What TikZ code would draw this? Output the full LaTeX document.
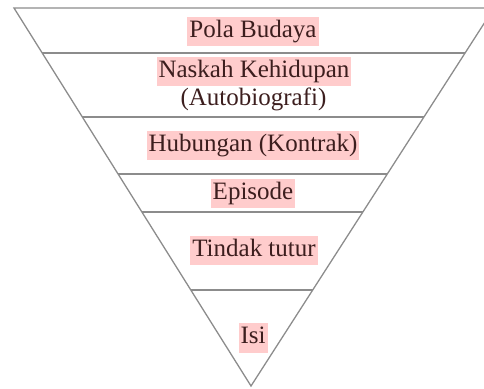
\documentclass[tikz,border=0pt]{standalone}
\usepackage{fontspec}
\setmainfont{Liberation Serif}
\usetikzlibrary{calc}
\definecolor{txt}{RGB}{60,30,30}
\definecolor{hl}{RGB}{255,204,204}
\definecolor{edge}{RGB}{140,140,140}
\tikzset{
  lbl/.style={fill=hl,text=txt,font=\fontsize{25}{28}\selectfont,inner xsep=2pt,inner ysep=3pt,text height=17.5pt,text depth=6pt},
  plain/.style={text=txt,font=\fontsize{25}{28}\selectfont,inner sep=0pt},
  tri/.style={draw=edge,line width=1.3pt,line join=miter}
}
\begin{document}
\begin{tikzpicture}[x=1pt,y=-1pt]
\useasboundingbox (0,0) rectangle (484,388);
\clip (0,0) rectangle (484,388);
\coordinate (A) at (14,8);
\coordinate (B) at (494,8);
\coordinate (C) at (251,386);
\draw[tri] (A) -- (B) -- (C) -- cycle;
\foreach \t in {0.119,0.288,0.439,0.540,0.746}{
  \draw[tri] ($(A)!\t!(C)$) -- ($(B)!\t!(C)$);
}
\node[lbl] (pola) at (253,31.5) {Pola Budaya};
\node[lbl] (naskah) at (254,71.5) {Naskah Kehidupan};
\node[plain] (auto) at (253.5,99) {(Autobiografi)};
\node[lbl] (hub) at (253,145.5) {Hubungan (Kontrak)};
\node[lbl] (epi) at (253,193.5) {Episode};
\node[lbl] (tindak) at (254,250.5) {Tindak tutur};
\node[lbl] (isi) at (253,338) {Isi};
\end{tikzpicture}
\end{document}
